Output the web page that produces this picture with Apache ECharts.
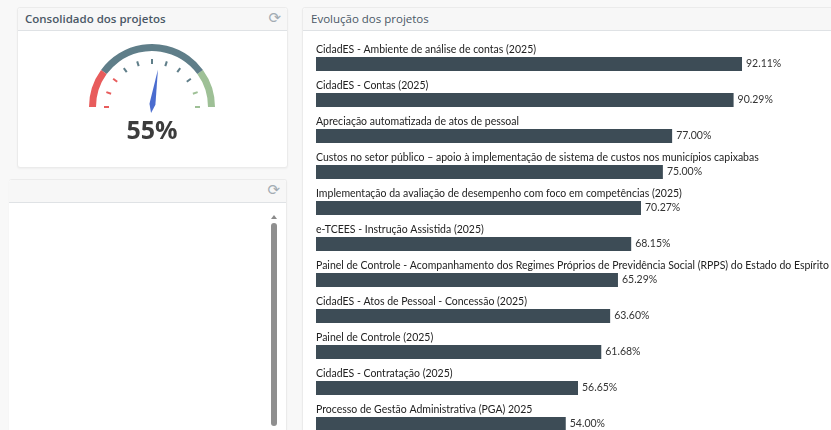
<!DOCTYPE html>
<html>
<head>
<meta charset="utf-8">
<script src="https://cdn.jsdelivr.net/npm/echarts@6/dist/echarts.min.js"></script>
<style>
  html, body { margin: 0; padding: 0; }
  body { width: 831px; height: 430px; overflow: hidden; background: #f8f8f8; position: relative; font-family: "Open Sans", sans-serif; }
  .panel { position: absolute; background: #fff; border: 1px solid #ebebeb; border-radius: 3px; box-shadow: 0 1px 2px rgba(0,0,0,0.04); }
  .head { position: absolute; left: 0; right: 0; top: 0; height: 22px; background: #f7f7f7; border-bottom: 1px solid #dfe2e5; border-radius: 3px 3px 0 0; }
  .title { position: absolute; left: 7px; top: 3px; font-size: 11.5px; color: #4a5866; }
  .icon { position: absolute; right: 6px; top: 1px; font-family: "DejaVu Sans"; font-size: 15px; color: #a3acb3; }
  .chart { position: absolute; }
</style>
</head>
<body>
<div class="panel" style="left:17px;top:7px;width:269px;height:159px;">
  <div class="head"><span class="title" style="font-weight:600;">Consolidado dos projetos</span><span class="icon">⟳</span></div>
</div>
<div class="panel" style="left:9px;top:179px;width:277px;height:270px;border-left:none;">
  <div class="head"><span class="icon">⟳</span></div>
  <div style="position:absolute;left:262px;top:35px;width:0;height:0;border-left:3px solid transparent;border-right:3px solid transparent;border-bottom:4px solid #8a8a8a;"></div>
  <div style="position:absolute;left:262px;top:43px;width:6px;height:203px;background:#8f8f8f;border-radius:3px;"></div>
</div>
<div class="panel" style="left:302px;top:7px;width:560px;height:440px;">
  <div class="head"><span class="title" style="left:8px;">Evolução dos projetos</span></div>
</div>
<div id="gauge" class="chart" style="left:17px;top:31px;width:270px;height:135px;"></div>
<div id="bars" class="chart" style="left:303px;top:31px;width:600px;height:420px;"></div>
<script>
// valor consolidado
const consolidado = 55;

// projetos e percentual de evolução
const projetos = [
  'CidadES - Ambiente de análise de contas (2025)',
  'CidadES - Contas (2025)',
  'Apreciação automatizada de atos de pessoal',
  'Custos no setor público – apoio à implementação de sistema de custos nos municípios capixabas',
  'Implementação da avaliação de desempenho com foco em competências (2025)',
  'e-TCEES - Instrução Assistida (2025)',
  'Painel de Controle - Acompanhamento dos Regimes Próprios de Previdência Social (RPPS) do Estado do Espírito Santo',
  'CidadES - Atos de Pessoal - Concessão (2025)',
  'Painel de Controle (2025)',
  'CidadES - Contratação (2025)',
  'Processo de Gestão Administrativa (PGA) 2025'
];
const evolucao = [92.11, 90.29, 77.00, 75.00, 70.27, 68.15, 65.29, 63.60, 61.68, 56.65, 54.00];

const gauge = echarts.init(document.getElementById('gauge'));
gauge.setOption({
  animation: false,
  series: [{
    type: 'gauge',
    center: [135, 76],
    radius: 63,
    startAngle: 180,
    endAngle: 0,
    min: 0,
    max: 100,
    splitNumber: 10,
    axisLine: {
      lineStyle: {
        width: 7,
        color: [[0.2, '#e85c5c'], [0.8, '#5f7e89'], [1, '#9ec096']]
      }
    },
    axisTick: { show: false },
    splitLine: { distance: 8, length: 5, lineStyle: { color: 'auto', width: 2 } },
    axisLabel: { show: false },
    pointer: {
      icon: 'path://M5,0 L10,80 L5,100 L0,80 Z',
      length: 44,
      width: 6,
      offsetCenter: [0, 6],
      itemStyle: { color: '#4a6ccf' }
    },
    anchor: { show: false },
    title: { show: false },
    detail: {
      offsetCenter: [0, 25],
      fontSize: 25,
      fontWeight: 'bold',
      fontFamily: 'Open Sans',
      color: '#3c3c3c',
      formatter: '{value}%'
    },
    data: [{ value: consolidado }]
  }]
});

const bars = echarts.init(document.getElementById('bars'));
bars.setOption({
  animation: false,
  textStyle: { fontFamily: 'Lato' },
  grid: { left: 13, top: 15, width: 462.5, height: 396, outerBoundsMode: 'none', containLabel: false },
  xAxis: { type: 'value', min: 0, max: 100, show: false },
  yAxis: {
    type: 'category',
    data: projetos,
    inverse: true,
    axisLine: { show: false },
    axisTick: { show: false },
    axisLabel: {
      inside: true,
      margin: 0,
      verticalAlign: 'bottom',
      lineHeight: 13,
      padding: [0, 0, 8, 0],
      fontSize: 10.5,
      color: '#222'
    }
  },
  series: [{
    type: 'bar',
    data: evolucao,
    barWidth: 14,
    itemStyle: { color: '#3d4c56' },
    label: {
      show: true,
      position: 'right',
      distance: 4,
      fontSize: 10.5,
      color: '#333',
      formatter: p => p.value.toFixed(2) + '%'
    }
  }]
});
</script>
</body>
</html>
